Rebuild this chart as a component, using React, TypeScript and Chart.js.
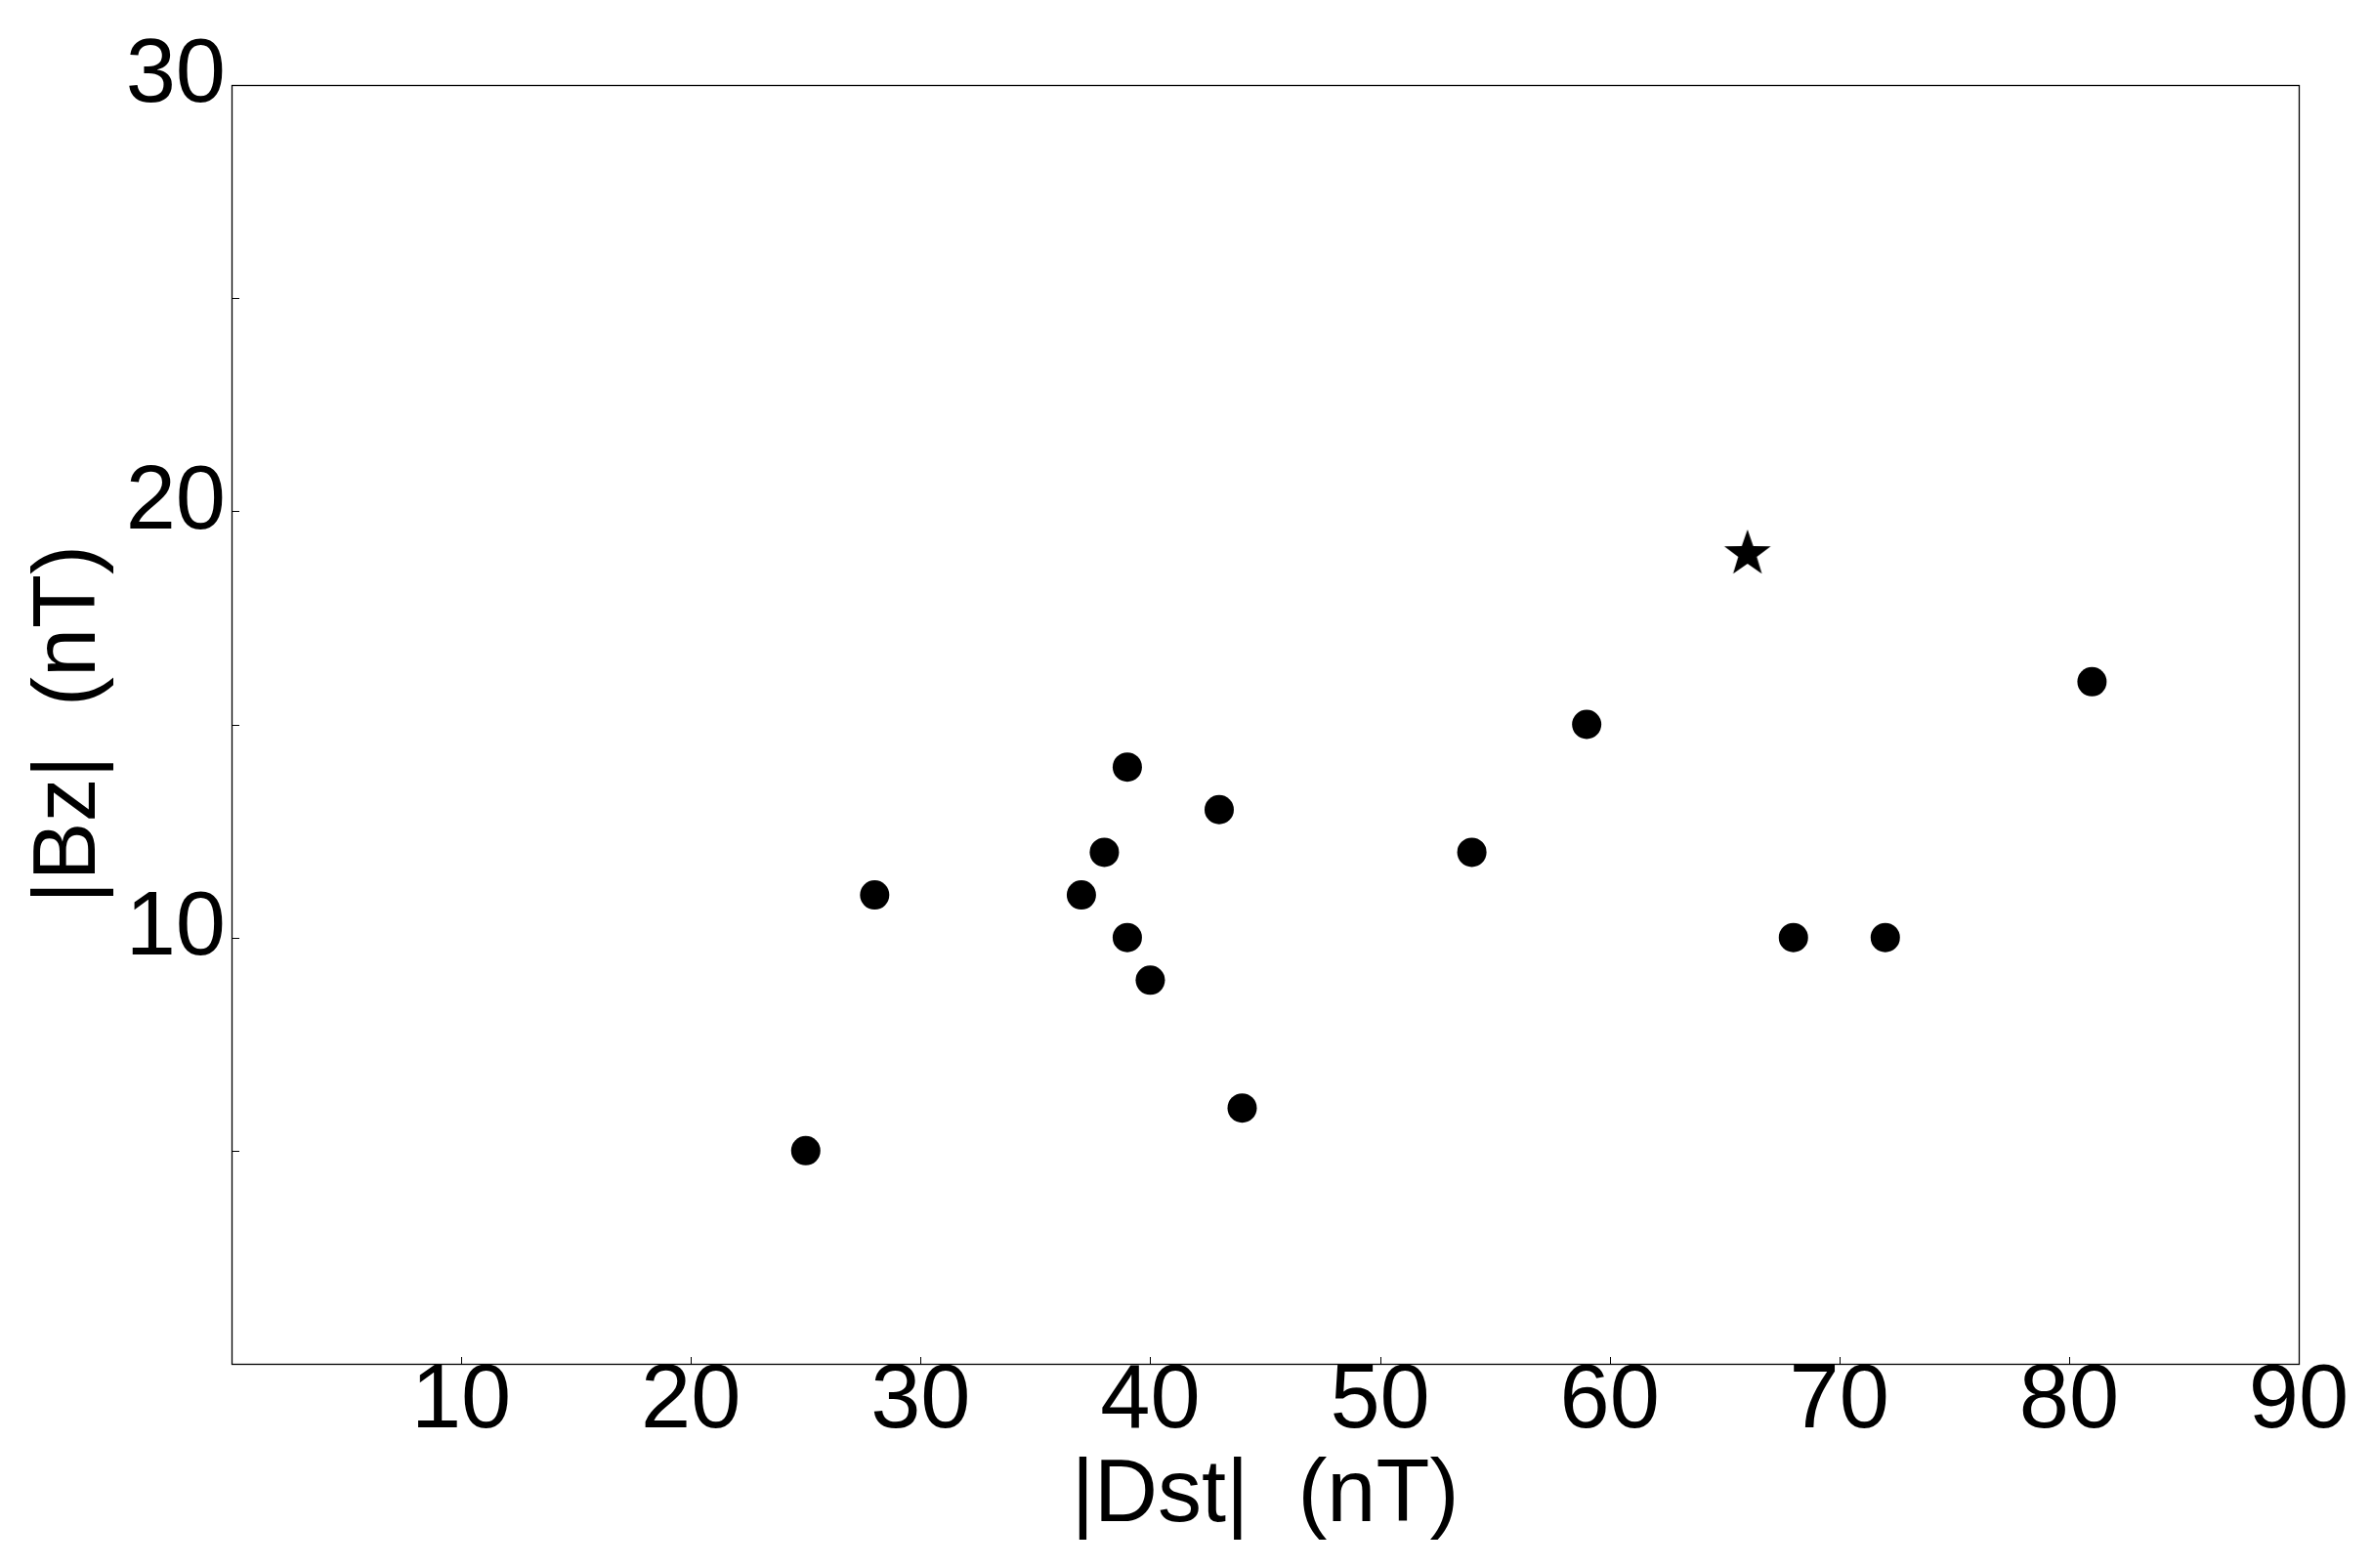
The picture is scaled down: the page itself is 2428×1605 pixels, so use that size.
import React, { useEffect, useRef } from "react";
import { Chart, registerables } from "chart.js";

Chart.register(...registerables);

// Data
const dstValues = [25, 28, 37, 38, 39, 39, 40, 43, 44, 54, 59, 68, 72, 81];
const bzValues = [5, 11, 11, 12, 14, 10, 9, 13, 6, 12, 15, 10, 10, 16];
const starDst = [66];
const starBz = [19];

const xTickLabels = [10, 20, 30, 40, 50, 60, 70, 80, 90];
const yTickLabels = [10, 20, 30];
const xMinorTicks = [10, 20, 30, 40, 50, 60, 70, 80];
const yMinorTicks = [5, 10, 15, 20, 25];

const xTitle = "|Dst|  (nT)";
const yTitle = "|Bz|  (nT)";

const FONT = "'Liberation Sans', Arial, sans-serif";

function makeStar(R: number, ratio: number): HTMLCanvasElement {
  const size = Math.ceil(R * 2 + 4);
  const c = document.createElement("canvas");
  c.width = size;
  c.height = size;
  const ctx = c.getContext("2d")!;
  const cx = size / 2;
  const cy = size / 2;
  const r = R * ratio;
  ctx.beginPath();
  for (let i = 0; i < 10; i++) {
    const rad = i % 2 === 0 ? R : r;
    const a = -Math.PI / 2 + (i * Math.PI) / 5;
    const px = cx + rad * Math.cos(a);
    const py = cy + rad * Math.sin(a);
    if (i === 0) ctx.moveTo(px, py);
    else ctx.lineTo(px, py);
  }
  ctx.closePath();
  ctx.fillStyle = "#000";
  ctx.fill();
  return c;
}

const framePlugin = {
  id: "frameTicks",
  afterDatasetsDraw(chart: any) {
    const { ctx, chartArea } = chart;
    const { left, right, top, bottom } = chartArea;
    const xs = chart.scales.x;
    const ys = chart.scales.y;
    ctx.save();
    ctx.strokeStyle = "#000";
    ctx.lineWidth = 1.3;
    ctx.strokeRect(Math.round(left) + 0.5, Math.round(top) + 0.5, Math.round(right - left), Math.round(bottom - top));
    ctx.lineWidth = 1;
    ctx.beginPath();
    for (const v of xMinorTicks) {
      const px = Math.round(xs.getPixelForValue(v)) + 0.5;
      ctx.moveTo(px, bottom);
      ctx.lineTo(px, bottom - 7);
    }
    for (const v of yMinorTicks) {
      const py = Math.round(ys.getPixelForValue(v)) + 0.5;
      ctx.moveTo(left, py);
      ctx.lineTo(left + 8, py);
    }
    ctx.stroke();
    ctx.restore();
  },
};

export default function App() {
  const ref = useRef<HTMLCanvasElement | null>(null);

  useEffect(() => {
    document.body.style.margin = "0";
    const canvas = ref.current!;
    const star = makeStar(25, 0.4);
    const chart = new Chart(canvas, {
      type: "scatter",
      data: {
        datasets: [
          {
            data: dstValues.map((x, i) => ({ x, y: bzValues[i] })),
            pointRadius: 15,
            pointHoverRadius: 15,
            pointBackgroundColor: "#000",
            pointBorderColor: "#000",
            pointBorderWidth: 0,
          },
          {
            data: starDst.map((x, i) => ({ x, y: starBz[i] })),
            pointStyle: star as any,
            pointRadius: 25,
            pointBackgroundColor: "#000",
            pointBorderColor: "#000",
          },
        ],
      },
      options: {
        responsive: false,
        animation: false,
        devicePixelRatio: 1,
        layout: { padding: { top: 87, right: 75, left: 0, bottom: 0 } },
        plugins: {
          legend: { display: false },
          tooltip: { enabled: false },
        },
        events: [],
        scales: {
          x: {
            type: "linear",
            min: 0,
            max: 90,
            grid: { display: false, drawTicks: false },
            border: { display: false },
            afterFit: (s: any) => {
              s.height = 209;
            },
            afterBuildTicks: (s: any) => {
              s.ticks = [0, ...xTickLabels].map((v) => ({ value: v }));
            },
            ticks: {
              autoSkip: false,
              maxRotation: 0,
              padding: -6,
              color: "#000",
              font: { family: FONT, size: 92, lineHeight: 1 },
              callback: (v: any) => (xTickLabels.includes(Number(v)) ? String(v) : ""),
            },
            title: {
              display: true,
              text: xTitle,
              color: "#000",
              font: { family: FONT, size: 90, lineHeight: 1 },
              padding: { top: 0, bottom: 28 },
            },
          },
          y: {
            type: "linear",
            min: 0,
            max: 30,
            grid: { display: false, drawTicks: false },
            border: { display: false },
            afterFit: (s: any) => {
              s.width = 237;
            },
            afterBuildTicks: (s: any) => {
              s.ticks = [0, 5, 10, 15, 20, 25, 30].map((v) => ({ value: v }));
            },
            ticks: {
              autoSkip: false,
              padding: 6,
              labelOffset: -8,
              color: "#000",
              font: { family: FONT, size: 92, lineHeight: 1 },
              callback: (v: any) => (yTickLabels.includes(Number(v)) ? String(v) : ""),
            },
            title: {
              display: true,
              text: yTitle,
              color: "#000",
              font: { family: FONT, size: 90, lineHeight: 1 },
              padding: { top: 27, bottom: 0 },
            },
          },
        },
      },
      plugins: [framePlugin],
    });
    return () => chart.destroy();
  }, []);

  return (
    <div style={{ width: 2428, height: 1605, background: "#fff" }}>
      <canvas ref={ref} width={2428} height={1605} style={{ display: "block" }} />
    </div>
  );
}
